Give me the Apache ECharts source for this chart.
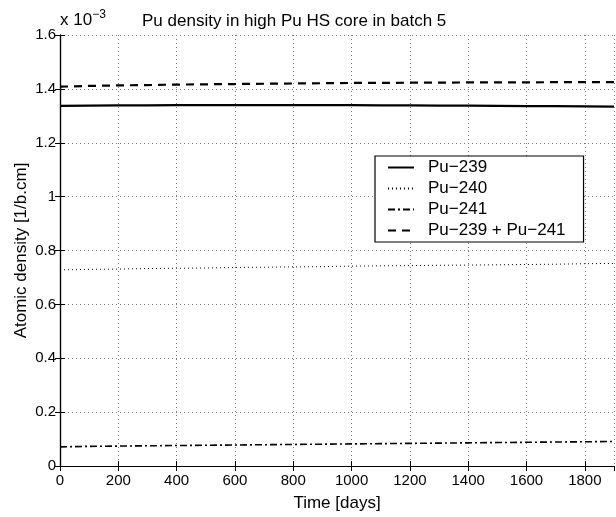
<!DOCTYPE html>
<html>
<head>
<meta charset="utf-8">
<script src="https://cdn.jsdelivr.net/npm/echarts@6/dist/echarts.min.js"></script>
<style>
html,body{margin:0;padding:0;background:#fff;}
#c{width:616px;height:517px;}
</style>
</head>
<body>
<div id="c"></div>
<script>
// Time axis (days)
const days = [0,100,200,300,400,500,600,700,800,900,1000,1100,1200,1300,1400,1500,1600,1700,1800,1900];
// Atomic densities, in units of 1e-3 [1/b.cm]
const pu239 = [1.337,1.338,1.339,1.339,1.340,1.340,1.340,1.340,1.340,1.340,1.340,1.339,1.339,1.338,1.338,1.337,1.336,1.336,1.335,1.334];
const pu240 = [0.728,0.730,0.731,0.733,0.734,0.735,0.737,0.738,0.739,0.740,0.742,0.743,0.744,0.745,0.746,0.747,0.748,0.749,0.751,0.752];
const pu241 = [0.071,0.073,0.074,0.075,0.076,0.077,0.078,0.079,0.080,0.081,0.082,0.083,0.084,0.085,0.086,0.087,0.088,0.089,0.090,0.091];
const pu239plus241 = [1.408,1.411,1.413,1.414,1.416,1.417,1.418,1.419,1.420,1.421,1.422,1.422,1.423,1.423,1.424,1.424,1.424,1.425,1.425,1.425];
const seriesNames = ['Pu\u2212239','Pu\u2212240','Pu\u2212241','Pu\u2212239 + Pu\u2212241'];
const xTicks = [0,200,400,600,800,1000,1200,1400,1600,1800];
const yTicks = [0,0.2,0.4,0.6,0.8,1,1.2,1.4,1.6];

const FONT = 'Liberation Sans, Arial, Helvetica, sans-serif';
const pairs = arr => days.map((d,i)=>[d,arr[i]]);

const chart = echarts.init(document.getElementById('c'), null, {renderer:'canvas'});
const gridLine = {show:true, lineStyle:{color:'#777', type:[1,3], width:1}};
const tickStyle = {show:true, inside:true, length:5, lineStyle:{color:'#000', width:1}};
const axisLineStyle = {show:true, lineStyle:{color:'#000', width:1.2}};

function lineSeries(name, arr, style){
  return {name, type:'line', data:pairs(arr), showSymbol:false, symbol:'none',
    lineStyle:Object.assign({color:'#000'}, style), itemStyle:{color:'#000'}, animation:false, z:3};
}

chart.setOption({
  backgroundColor:'#fff',
  animation:false,
  title:{text:'Pu density in high Pu HS core in batch 5', left:137, top:8,
    textStyle:{fontFamily:FONT, fontSize:17, fontWeight:'normal', color:'#000'}},
  grid:{left:60, right:2, top:35, bottom:44, containLabel:false},
  xAxis:[{
    type:'value', min:0, max:1900, interval:200,
    name:'Time [days]', nameLocation:'middle', nameGap:29, nameMoveOverlap:false,
    nameTextStyle:{fontFamily:FONT, fontSize:17, color:'#000'},
    axisLine:axisLineStyle, axisTick:tickStyle, splitLine:gridLine,
    axisLabel:{fontFamily:FONT, fontSize:15, color:'#000', margin:7, showMaxLabel:false,
      formatter:v=> xTicks.includes(v)? String(v):''}
  },{
    type:'value', min:0, max:1900, interval:200, position:'top',
    axisLine:axisLineStyle, axisTick:tickStyle, splitLine:{show:false}, axisLabel:{show:false}
  }],
  yAxis:[{
    type:'value', min:0, max:1.6, interval:0.2,
    name:'Atomic density [1/b.cm]', nameLocation:'middle', nameGap:30, nameMoveOverlap:false,
    nameTextStyle:{fontFamily:FONT, fontSize:17, color:'#000'},
    axisLine:axisLineStyle, axisTick:tickStyle, splitLine:gridLine,
    axisLabel:{fontFamily:FONT, fontSize:15, color:'#000', margin:4,
      formatter:v=>{ const t=yTicks.find(t=>Math.abs(t-v)<1e-9); return t===undefined?'':String(+t.toFixed(1)); }}
  },{
    type:'value', min:0, max:1.6, interval:0.2, position:'right',
    axisLine:axisLineStyle, axisTick:tickStyle, splitLine:{show:false}, axisLabel:{show:false}
  }],
  legend:{
    orient:'vertical', left:375, top:156,
    data:seriesNames,
    itemWidth:26, itemHeight:14, itemGap:4,
    padding:[3,18,3,12],
    borderColor:'#000', borderWidth:1.2, backgroundColor:'#fff',
    itemStyle:{opacity:0},
    textStyle:{fontFamily:FONT, fontSize:17, color:'#000', padding:[0,0,0,9]},
    selectedMode:false
  },
  graphic:[{
    type:'text', left:60, top:9,
    style:{text:'{a|x 10}{b|\u22123}', rich:{
      a:{fontFamily:FONT, fontSize:17, fill:'#000'},
      b:{fontFamily:FONT, fontSize:12, fill:'#000', verticalAlign:'top', padding:[0,0,10,0]}
    }}
  }],
  series:[
    lineSeries(seriesNames[0], pu239, {width:2.2, type:'solid'}),
    lineSeries(seriesNames[1], pu240, {width:1, type:[1,3]}),
    lineSeries(seriesNames[2], pu241, {width:1.6, type:[7,3,2,3]}),
    lineSeries(seriesNames[3], pu239plus241, {width:2.2, type:[8,6]})
  ]
});
</script>
</body>
</html>
